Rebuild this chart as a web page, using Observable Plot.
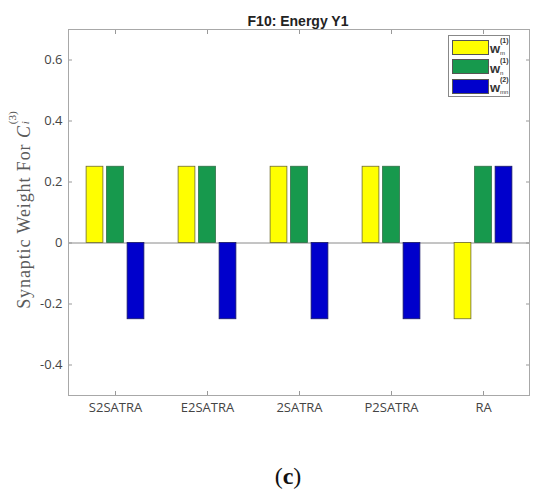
<!DOCTYPE html>
<html>
<head>
<meta charset="utf-8">
<script src="https://cdn.jsdelivr.net/npm/d3@7"></script>
<script src="https://cdn.jsdelivr.net/npm/@observablehq/plot@0.6"></script>
<style>
  body { margin: 0; background: #fff; }
  #wrap { position: relative; width: 550px; height: 501px; overflow: hidden; font-family: "Open Sans", sans-serif; }
  #wrap svg { position: absolute; left: 0; top: 0; }
  .title { position: absolute; left: 298px; top: 21px; transform: translate(-50%, -50%); font: bold 14px "Liberation Sans", Arial, sans-serif; color: #222; white-space: nowrap; }
  .ylabel { position: absolute; left: 23px; top: 208px; transform: translate(-50%, -50%) rotate(-90deg); font: 18px "Liberation Serif", "Times New Roman", serif; color: #5a5a5a; white-space: nowrap; letter-spacing: 0.9px; }
  .stack { display: inline-block; position: relative; width: 18px; height: 1em; vertical-align: baseline; }
  .stack .sup { position: absolute; left: 1px; top: -0.5em; font-size: 0.62em; letter-spacing: 0; }
  .stack .sub { position: absolute; left: 1px; top: 0.6em; font-size: 0.62em; font-style: italic; }
  .legend { position: absolute; left: 448px; top: 35px; width: 62px; height: 62px; border: 1px solid #888; background: #fff; box-sizing: border-box; }
  .row { position: absolute; left: 3px; height: 16px; display: flex; align-items: center; }
  .sw { width: 37px; height: 15px; border: 1px solid #555; box-sizing: border-box; }
  .lab { position: relative; margin-left: 1px; font: bold 13px "Liberation Sans", Arial, sans-serif; color: #333; width: 18px; height: 16px; }
  .lab .w { position: absolute; left: 0; top: 4px; line-height: 11px; }
  .lab .sp { position: absolute; left: 10px; top: -2px; font-size: 7px; line-height: 7px; }
  .lab .sb { position: absolute; left: 10px; top: 11px; font-size: 6px; line-height: 6px; font-weight: normal; }
  .caption { position: absolute; left: 288px; top: 476px; transform: translate(-50%, -50%); font: 24px "Liberation Serif", "Times New Roman", serif; color: #111; white-space: nowrap; }
</style>
</head>
<body>
<div id="wrap"></div>
<script>
const categories = ["S2SATRA", "E2SATRA", "2SATRA", "P2SATRA", "RA"];
const wm1  = [0.25, 0.25, 0.25, 0.25, -0.25];
const wn1  = [0.25, 0.25, 0.25, 0.25, 0.25];
const wmn2 = [-0.25, -0.25, -0.25, -0.25, 0.25];
const yTicks = [-0.4, -0.2, 0, 0.2, 0.4, 0.6];
const seriesColors = ["#ffff00", "#17994d", "#0000cc"];

const mk = (vals) => categories.map((c, i) => ({cat: c, v: vals[i]}));
const barW = 17, offset = 20.5;
const width = 550, height = 501;
const mL = 68, mR = 21, mT = 29, mB = 106;
const step = (width - mL - mR) / categories.length;
const inset = (step - barW) / 2;

const barOpts = (col, dx, stroke) => ({x: "cat", y: "v", fill: col, stroke, strokeWidth: 0.8, dx, insetLeft: inset, insetRight: inset});

const chart = Plot.plot({
  width, height,
  marginLeft: mL, marginRight: mR, marginTop: mT, marginBottom: mB,
  x: {domain: categories, padding: 0, label: null},
  y: {domain: [-0.5, 0.7], label: null},
  style: {fontFamily: "'Open Sans', sans-serif", fontSize: "13px", color: "#444", background: "#fff"},
  marks: [
    Plot.ruleY([0], {stroke: "#8a8a8a", strokeWidth: 1}),
    Plot.barY(mk(wm1), barOpts(seriesColors[0], -offset, "#6d6a2e")),
    Plot.barY(mk(wn1), barOpts(seriesColors[1], 0, "#2d6e44")),
    Plot.barY(mk(wmn2), barOpts(seriesColors[2], offset, "#1a1a66")),
    Plot.axisY({anchor: "left", ticks: yTicks, tickSize: -4, tickPadding: 10, tickFormat: d => String(d), stroke: "#999", label: null, fill: "#444"}),
    Plot.axisY({anchor: "right", ticks: yTicks, tickSize: -4, tickFormat: () => "", stroke: "#999", label: null}),
    Plot.axisX({anchor: "bottom", tickSize: -4, tickPadding: 11, stroke: "#999", label: null, fill: "#444"}),
    Plot.axisX({anchor: "top", tickSize: -4, tickFormat: () => "", stroke: "#999", label: null}),
    Plot.frame({stroke: "#a8a8a8"})
  ]
});

const wrap = document.getElementById("wrap");
wrap.appendChild(chart);

const title = document.createElement("div");
title.className = "title";
title.textContent = "F10: Energy Y1";
wrap.appendChild(title);

const yl = document.createElement("div");
yl.className = "ylabel";
yl.innerHTML = 'Synaptic Weight For <i>C</i><span class="stack"><span class="sup">(3)</span><span class="sub">i</span></span>';
wrap.appendChild(yl);

const legendItems = [
  {sup: "(1)", sub: "m"},
  {sup: "(1)", sub: "n"},
  {sup: "(2)", sub: "mn"}
];
const lg = document.createElement("div");
lg.className = "legend";
legendItems.forEach((it, i) => {
  const r = document.createElement("div");
  r.className = "row";
  r.style.top = (3 + i * 19.5) + "px";
  r.innerHTML = `<div class="sw" style="background:${seriesColors[i]}"></div><div class="lab"><span class="w">w</span><span class="sp">${it.sup}</span><span class="sb">${it.sub}</span></div>`;
  lg.appendChild(r);
});
wrap.appendChild(lg);

const cap = document.createElement("div");
cap.className = "caption";
cap.innerHTML = '(<b>c</b>)';
wrap.appendChild(cap);
</script>
</body>
</html>
